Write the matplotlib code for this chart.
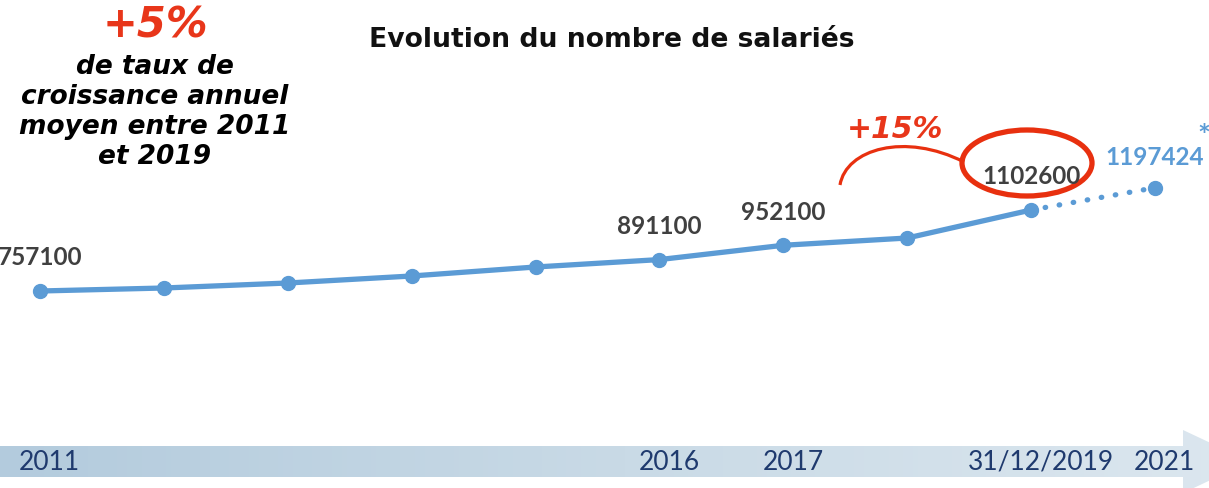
import matplotlib
matplotlib.use("Agg")
import matplotlib.pyplot as plt
import numpy as np
from matplotlib.patches import Polygon, Ellipse, PathPatch
from matplotlib.path import Path
from matplotlib.colors import LinearSegmentedColormap

# ---- data ----
years = ["2011", "2012", "2013", "2014", "2015", "2016", "2017", "2018", "2019", "2021"]
salaries = [757100, 769900, 791200, 821100, 859500, 891100, 952100, 983100, 1102600, 1197424]
labelled = {"2011": "757100", "2016": "891100", "2017": "952100", "2019": "1102600"}
forecast_label = "1197424"
axis_labels = {"2011": "2011", "2016": "2016", "2017": "2017", "2019": "31/12/2019", "2021": "2021"}

W, H = 1209, 489
fig = plt.figure(figsize=(W / 100, H / 100), dpi=100)
fig.patch.set_facecolor("white")

# overlay axes in pixel coordinates for decorations
deco = fig.add_axes([0, 0, 1, 1])
deco.axis("off")

# main data axes
ax = fig.add_axes([0, 0, 1, 1], facecolor="none")
ax.set_xlim(-0.323, 9.436)
ax.set_ylim(-83100, 2002480)
ax.axis("off")

x = np.arange(len(years))
blue = "#5b9bd5"
ax.plot(x[:9], salaries[:9], color=blue, lw=3.8, marker="o", ms=10, solid_capstyle="round", zorder=3)
ax.plot(x[8:], salaries[8:], color=blue, lw=3.8, ls=(0, (0.1, 2.6)), dash_capstyle="round", zorder=3)
ax.plot(x[9], salaries[9], color=blue, marker="o", ms=10, zorder=3)

label_font = "Lato"
for i, (yr, v) in enumerate(zip(years, salaries)):
    if yr in labelled:
        ax.annotate(labelled[yr], (i, v), xytext=(0, 24.5), textcoords="offset points",
                    ha="center", va="center", fontsize=17.5, fontweight="bold",
                    color="#404040", family=label_font, zorder=5)
ax.annotate(forecast_label, (9, salaries[9]), xytext=(0, 22.5), textcoords="offset points",
            ha="center", va="center", fontsize=17.5, fontweight="bold", color=blue, family=label_font)
ax.annotate("*", (9, salaries[9]), xytext=(35, 37), textcoords="offset points",
            ha="center", va="center", fontsize=22, fontweight="bold", color=blue, family=label_font)

# bottom gradient arrow band
band_top, band_bot = 447, 478
arrow_pts = [(0, band_top), (1183, band_top), (1183, 431), (1250, 462.5), (1183, 494), (1183, band_bot), (0, band_bot)]
poly = Polygon(arrow_pts, closed=True, facecolor="none", edgecolor="none")
deco.add_patch(poly)
grad = np.linspace(0, 1, 256)[None, :]
cmap = LinearSegmentedColormap.from_list("band", ["#b3cbdd", "#c9dae6", "#dce7ef"])
im = deco.imshow(grad, extent=[0, 1250, 494, 431], cmap=cmap, aspect="auto", zorder=1)
im.set_clip_path(poly)
deco.set_xlim(0, W)
deco.set_ylim(H, 0)

for i, yr in enumerate(years):
    if yr in axis_labels:
        ax.annotate(axis_labels[yr], (i, 0), xycoords=("data", "axes fraction"),
                    xytext=(7, 1 - 462.5 / H), textcoords=("offset points", "axes fraction"),
                    ha="center", va="center", fontsize=19, color="#1f3a6e",
                    family="Lato", zorder=5)

# title
deco.text(612, 40, "Evolution du nombre de salariés", ha="center", va="center",
          fontsize=19.2, fontweight="bold", color="#111111", family="DejaVu Sans")

# left commentary
red = "#e8361a"
deco.text(155, 26, "+5%", ha="center", va="center", fontsize=30, fontweight="bold",
          style="italic", color=red, family="DejaVu Sans")
deco.text(155, 112, "de taux de\ncroissance annuel\nmoyen entre 2011\net 2019", ha="center",
          va="center", fontsize=19, fontweight="bold", style="italic", color="black",
          family="DejaVu Sans", linespacing=1.2)

# +15% annotation
deco.text(895, 130, "+15%", ha="center", va="center", fontsize=21.5, fontweight="bold",
          style="italic", color=red, family="DejaVu Sans")
arc = Path([(840, 186), (846, 150), (905, 133), (964, 163)],
           [Path.MOVETO, Path.CURVE4, Path.CURVE4, Path.CURVE4])
deco.add_patch(PathPatch(arc, facecolor="none", edgecolor="#e8300f", lw=2.3))
deco.add_patch(Ellipse((1027, 164), 130, 66, facecolor="none", edgecolor="#e8300f", lw=3.8, zorder=4))

fig.savefig("out.png", dpi=100)
